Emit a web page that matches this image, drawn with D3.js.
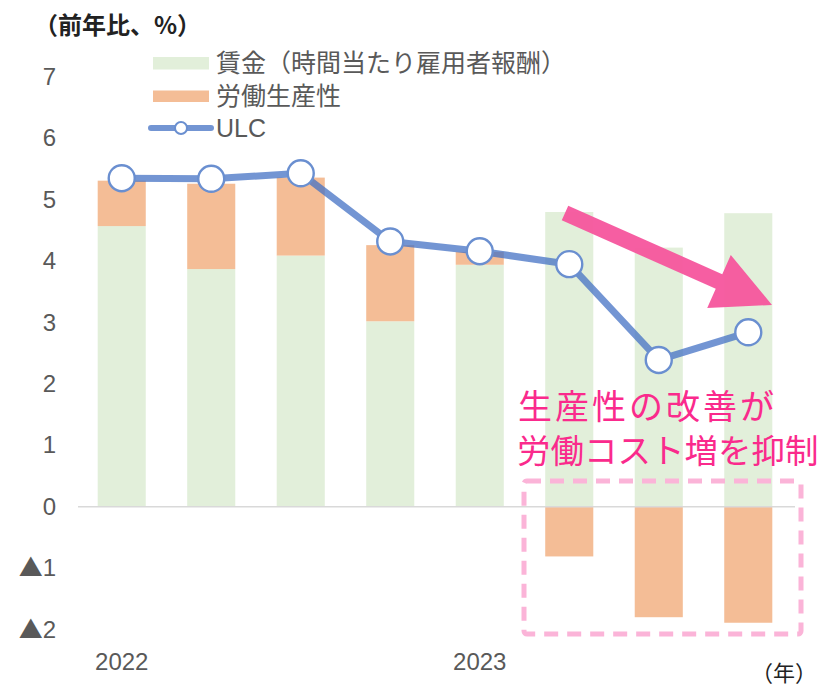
<!DOCTYPE html>
<html>
<head>
<meta charset="utf-8">
<script src="https://cdn.jsdelivr.net/npm/d3@7"></script>
<style>
  body { margin: 0; background: #fff; }
  text { font-family: "Liberation Sans", "Noto Sans CJK JP", sans-serif; }
</style>
</head>
<body>
<script>
// data
var periods = ["2022Q1", "2022Q2", "2022Q3", "2022Q4", "2023Q1", "2023Q2", "2023Q3", "2023Q4"];
var xLabels = ["2022", "", "", "", "2023", "", "", ""];
var wages = [4.57, 3.87, 4.09, 3.02, 3.94, 4.80, 4.22, 4.78];
var productivity = [0.74, 1.39, 1.27, 1.24, 0.21, -0.81, -1.80, -1.89];
var ulc = [5.35, 5.34, 5.43, 4.32, 4.16, 3.95, 2.39, 2.84];
var yTicks = [-2, -1, 0, 1, 2, 3, 4, 5, 6, 7];

var green = "#e2efda", orange = "#f4bd96", blue = "#4472c4", pink = "#f5559d";

var svg = d3.select("body")
  .append("svg")
  .attr("width", 823)
  .attr("height", 686);

var x = d3.scaleBand().domain(periods).range([78, 792]).paddingInner(0.463).paddingOuter(0.22);
var y = d3.scaleLinear().domain([-2, 7]).range([629.5, 76.9]);

// y axis labels
var yAxis = svg.append("g")
  .attr("transform", "translate(56,0)")
  .call(d3.axisLeft(y).tickValues(yTicks).tickSize(0).tickPadding(0).tickFormat(""));
yAxis.select(".domain").remove();
yAxis.selectAll(".tick text")
  .attr("fill", "#595959")
  .style("font-size", "24px")
  .each(function(d) {
    var t = d3.select(this);
    if (d < 0) {
      t.append("tspan").style("font-family", "Noto Sans CJK JP").style("font-size", "24px").text("▲");
      t.append("tspan").style("font-family", "Liberation Sans").text(-d);
    } else {
      t.append("tspan").style("font-family", "Liberation Sans").text(d);
    }
  });

// x axis labels
var xAxis = svg.append("g")
  .attr("transform", "translate(0,652)")
  .call(d3.axisBottom(x).tickSize(0).tickPadding(0)
    .tickFormat(function(d, i) { return xLabels[i]; }));
xAxis.select(".domain").remove();
xAxis.selectAll("text")
  .attr("fill", "#595959")
  .attr("dy", "0.75em")
  .style("font-size", "24px")
  .style("font-family", "Liberation Sans");

// bars
svg.selectAll(".wage")
  .data(wages)
  .enter().append("rect")
  .attr("class", "wage")
  .attr("fill", green)
  .attr("x", function(d, i) { return x(periods[i]); })
  .attr("width", x.bandwidth())
  .attr("y", function(d) { return y(d); })
  .attr("height", function(d) { return y(0) - y(d); });

svg.selectAll(".prod")
  .data(productivity)
  .enter().append("rect")
  .attr("class", "prod")
  .attr("fill", orange)
  .attr("x", function(d, i) { return x(periods[i]); })
  .attr("width", x.bandwidth())
  .attr("y", function(d, i) { return d >= 0 ? y(wages[i] + d) : y(0); })
  .attr("height", function(d, i) { return d >= 0 ? y(wages[i]) - y(wages[i] + d) : y(d) - y(0); });

// zero line
svg.append("line")
  .attr("x1", 78).attr("x2", 795)
  .attr("y1", y(0)).attr("y2", y(0))
  .attr("stroke", "#d9d9d9")
  .attr("stroke-width", 1.5);

// arrow
var a0 = [565, 213], a1 = [772, 305];
var dx = a1[0] - a0[0], dy = a1[1] - a0[1], len = Math.sqrt(dx * dx + dy * dy);
var ux = dx / len, uy = dy / len, nx = -uy, ny = ux;
var sw = 8, hw = 29, hl = 58;
var b = [a1[0] - ux * hl, a1[1] - uy * hl];
var arrowPts = [
  [a0[0] + nx * sw, a0[1] + ny * sw],
  [b[0] + nx * sw, b[1] + ny * sw],
  [b[0] + nx * hw, b[1] + ny * hw],
  a1,
  [b[0] - nx * hw, b[1] - ny * hw],
  [b[0] - nx * sw, b[1] - ny * sw],
  [a0[0] - nx * sw, a0[1] - ny * sw]
];
svg.append("polygon")
  .attr("points", arrowPts.map(function(p) { return p.join(","); }).join(" "))
  .attr("fill", pink)
  .attr("opacity", 0.95);

// ULC line
var line = d3.line()
  .x(function(d, i) { return x(periods[i]) + x.bandwidth() / 2; })
  .y(function(d) { return y(d); });
svg.append("path")
  .attr("d", line(ulc))
  .attr("fill", "none")
  .attr("stroke", blue)
  .attr("stroke-opacity", 0.75)
  .attr("stroke-width", 7)
  .attr("stroke-linejoin", "round");
svg.selectAll(".dot")
  .data(ulc)
  .enter().append("circle")
  .attr("class", "dot")
  .attr("cx", function(d, i) { return x(periods[i]) + x.bandwidth() / 2; })
  .attr("cy", function(d) { return y(d); })
  .attr("r", 13)
  .attr("fill", "#fff")
  .attr("stroke", "#6a8fd0")
  .attr("stroke-width", 2.4);

// dashed box
svg.append("rect")
  .attr("x", 524).attr("y", 481)
  .attr("width", 277).attr("height", 153)
  .attr("rx", 3)
  .attr("fill", "none")
  .attr("stroke", "#fbb4d8")
  .attr("stroke-width", 5)
  .attr("stroke-dasharray", "14,9");

// annotation
var note = svg.append("text")
  .attr("fill", "#fa2a8c")
  .style("font-family", "Noto Sans CJK JP");
note.append("tspan").attr("x", 518).attr("y", 419).style("font-size", "34px").style("letter-spacing", "3px").text("生産性の改善が");
note.append("tspan").attr("x", 517).attr("y", 463).style("font-size", "33.5px").text("労働コスト増を抑制");

// legend
svg.append("rect").attr("x", 153).attr("y", 57).attr("width", 56).attr("height", 12.5).attr("fill", green);
svg.append("rect").attr("x", 153).attr("y", 90.5).attr("width", 56).attr("height", 11.5).attr("fill", orange);
svg.append("line").attr("x1", 151).attr("x2", 211).attr("y1", 128).attr("y2", 128)
  .attr("stroke", blue).attr("stroke-opacity", 0.75).attr("stroke-width", 6).attr("stroke-linecap", "round");
svg.append("circle").attr("cx", 181).attr("cy", 128).attr("r", 6)
  .attr("fill", "#fff").attr("stroke", "#6a8fd0").attr("stroke-width", 2);
var legendLabels = ["賃金（時間当たり雇用者報酬）", "労働生産性", "ULC"];
var legendY = [72, 105, 137];
svg.selectAll(".leg")
  .data(legendLabels)
  .enter().append("text")
  .attr("class", "leg")
  .attr("x", 216)
  .attr("y", function(d, i) { return legendY[i]; })
  .attr("fill", "#595959")
  .style("font-size", "25px")
  .text(function(d) { return d; });

// unit labels
svg.append("text")
  .attr("x", 34).attr("y", 34)
  .style("font-size", "24px")
  .style("font-weight", "bold")
  .attr("fill", "#222")
  .style("font-family", "Noto Sans CJK JP")
  .text("（前年比、%）");

svg.append("text")
  .attr("x", 751).attr("y", 681)
  .style("font-size", "22px")
  .attr("fill", "#222")
  .style("font-family", "Noto Sans CJK JP")
  .text("（年）");
</script>
</body>
</html>
